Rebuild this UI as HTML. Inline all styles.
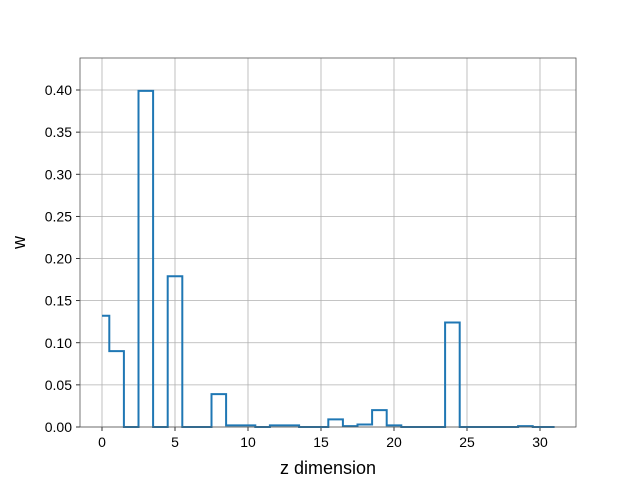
<!DOCTYPE html>
<html><head><meta charset="utf-8"><style>
body{margin:0;background:#fff}
svg{display:block;font-family:"Liberation Sans","DejaVu Sans",sans-serif}
</style></head><body>
<svg id="chart" width="640" height="480"></svg>
<script>
const xs=[0,1,2,3,4,5,6,7,8,9,10,11,12,13,14,15,16,17,18,19,20,21,22,23,24,25,26,27,28,29,30,31];
const ws=[0.132,0.09,0,0.399,0,0.179,0,0,0.039,0.002,0.002,0,0.002,0.002,0,0,0.009,0.001,0.003,0.02,0.002,0,0,0,0.124,0,0,0,0,0.001,0,0];
const xTicks=[0,5,10,15,20,25,30];
const yTicks=[0,0.05,0.1,0.15,0.2,0.25,0.3,0.35,0.4];
const L=80,R=576,T=58,B=427;
const X=v=>102+v*14.6;
const Y=v=>B-v*(337/0.4);
const svg=document.getElementById('chart');
const NS='http://www.w3.org/2000/svg';
function mk(tag,attrs,parent){const e=document.createElementNS(NS,tag);for(const k in attrs)e.setAttribute(k,attrs[k]);(parent||svg).appendChild(e);return e;}
const grid=mk('g',{});


xTicks.forEach(t=>{
  mk('line',{x1:X(t),x2:X(t),y1:T,y2:B,stroke:'#b0b0b0','stroke-width':0.8},grid);
  mk('line',{x1:X(t),x2:X(t),y1:B,y2:B+4,stroke:'#000','stroke-width':0.8});
  const tx=mk('text',{x:X(t),y:B+20,'text-anchor':'middle','font-size':14,fill:'#000'});
  tx.textContent=t;
  
  
});
yTicks.forEach(t=>{
  mk('line',{x1:L,x2:R,y1:Y(t),y2:Y(t),stroke:'#b0b0b0','stroke-width':0.8},grid);
  mk('line',{x1:L-4,x2:L,y1:Y(t),y2:Y(t),stroke:'#000','stroke-width':0.8});
  const tx=mk('text',{x:L-8,y:Y(t)+5,'text-anchor':'end','font-size':14,fill:'#000'});
  tx.textContent=t.toFixed(2);
  
  
});
let d='';
for(let i=0;i<xs.length;i++){
  const x0=i===0?xs[0]:(xs[i-1]+xs[i])/2;
  const x1=i===xs.length-1?xs[i]:(xs[i]+xs[i+1])/2;
  d+=(i===0?'M':'L')+X(x0)+','+Y(ws[i])+'L'+X(x1)+','+Y(ws[i]);
}
const p=mk('path',{d:d,fill:'none',stroke:'#1f77b4','stroke-width':2});


const fr=mk('rect',{x:L,y:T,width:R-L,height:B-T,fill:'none',stroke:'#555','stroke-width':0.8});


const xl=mk('text',{x:(L+R)/2,y:474,'text-anchor':'middle','font-size':18,fill:'#000'});
xl.textContent='z dimension';


const yl=mk('text',{x:25,y:(T+B)/2,'text-anchor':'middle','font-size':18,fill:'#000',transform:'rotate(-90 25 '+((T+B)/2)+')'});
yl.textContent='w';


</script>
</body></html>
